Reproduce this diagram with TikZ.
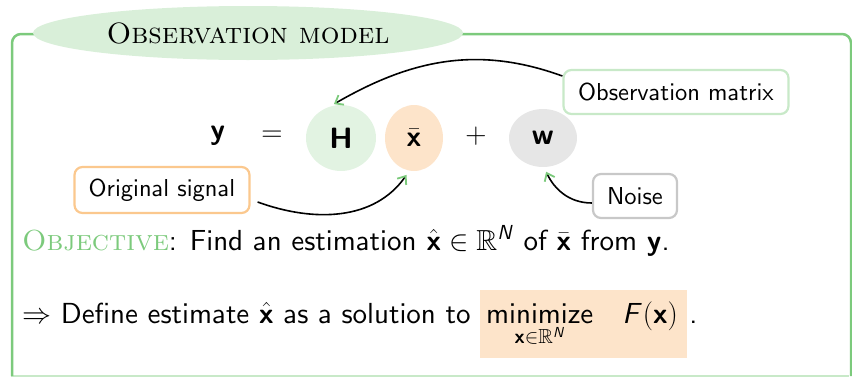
\RequirePackage{fix-cm}
\documentclass[tikz,border=0pt]{standalone}
\usepackage{amsmath}
\usepackage{amssymb}
\usepackage{xcolor}
\usepackage{tikz}
\usetikzlibrary{
	arrows.meta,
	positioning,
	shapes.geometric
}
\definecolor{framegreen}{RGB}{124,202,124}
\definecolor{titlegreen}{RGB}{217,239,217}
\definecolor{hgreen}{RGB}{226,243,226}
\definecolor{xorange}{RGB}{253,228,202}
\definecolor{wgray}{RGB}{230,230,230}
\definecolor{obsborder}{RGB}{200,233,200}
\definecolor{sigborder}{RGB}{251,200,142}
\definecolor{noiseborder}{RGB}{200,200,200}
% sans serif at its 10pt design, scaled up
\DeclareFontFamily{OT1}{slidesf}{}
\DeclareFontShape{OT1}{slidesf}{m}{n}{<-> cmss10}{}
\DeclareFontShape{OT1}{slidesf}{m}{sl}{<-> cmssi10}{}
\DeclareFontShape{OT1}{slidesf}{bx}{n}{<-> cmssbx10}{}
\DeclareFontShape{OT1}{slidesf}{b}{n}{<-> ssub * slidesf/bx/n}{}
\DeclareMathAlphabet{\mathbfsf}{OT1}{slidesf}{bx}{n}
\DeclareMathAlphabet{\mathsfit}{OT1}{slidesf}{m}{sl}
\DeclareMathAlphabet{\mathsfup}{OT1}{slidesf}{m}{n}
\newcommand{\slidesf}{\fontencoding{OT1}\fontfamily{slidesf}\selectfont}
\newcommand{\bodyfont}{\fontsize{29}{34}\selectfont\slidesf}

\begin{document}
\begin{tikzpicture}[x=1pt, y=-1pt,
		every node/.style={font=\bodyfont},
		term/.style={ellipse, inner sep=0pt, font=\fontsize{29.4}{35}\selectfont\slidesf},
		tag/.style={rectangle, rounded corners=8pt, line width=2.2pt, fill=white, inner sep=0pt, minimum height=44pt, font=\fontsize{24.5}{29}\selectfont\slidesf},
		link/.style={line width=1.6pt, -{Straight Barb[length=7pt, width=11pt, line width=1.8pt, color=framegreen]}, shorten >=5pt}]
		\useasboundingbox (0,0) rectangle (852,378);
		% frame of the block
		\draw[line width=1.5pt, obsborder] (12,360) -- (12,376) -- (849,376);
		\draw[line width=2.5pt, framegreen, rounded corners=9pt] (12,376) -- (12,34) -- (851,34) -- (851,376);
		\node[ellipse, fill=titlegreen, minimum width=430pt, minimum height=54pt, font=\fontsize{29.4}{35}\selectfont\rmfamily\scshape] (title) at (248,33) {Observation model};
		% equation
		\node[term] (y) at (218,136) {$\mathbfsf{y}$};
		\node[term] (eq) at (272,136) {$=$};
		\node[term, fill=hgreen, minimum width=70pt, minimum height=66pt] (H) at (341,138) {$\mathbfsf{H}$};
		\node[term, fill=xorange, minimum width=58pt, minimum height=66pt] (xbar) at (414,138) {$\bar{\mathbfsf{x}}$};
		\node[term] (plus) at (476,136) {$+$};
		\node[term, fill=wgray, minimum width=68pt, minimum height=58pt] (w) at (543,138) {$\mathbfsf{w}$};
		% labels
		\node[tag, draw=obsborder, minimum width=225pt] (obsmat) at (676,92) {Observation matrix};
		\node[tag, draw=sigborder, minimum width=175pt, minimum height=46pt] (origsig) at (162,190) {Original signal};
		\node[tag, draw=noiseborder, minimum width=84pt] (noise) at (635,196) {Noise};
		\draw[link] (obsmat.172) to[out=160, in=30] (H.110);
		\draw[link] ([xshift=7pt, yshift=-12pt]origsig.east) to[out=-20, in=235] (xbar.262);
		\draw[link] ([yshift=-7pt]noise.west) to[out=180, in=-65] (w.272);
		% text
		\node[anchor=base west, inner sep=0pt] (objective) at (22,250) {{\fontencoding{TU}\rmfamily\scshape\color{framegreen}Objective}: Find an estimation $\hat{\mathbfsf{x}}\in\mathbb{R}^{\mathsfit{N}}$ of $\bar{\mathbfsf{x}}$ from $\mathbfsf{y}$.};
		\node[anchor=base west, inner sep=0pt] (define) at (22,323) {$\Rightarrow$ Define estimate $\hat{\mathbfsf{x}}$ as a solution to};
		\node[base right=9pt of define, fill=xorange, inner xsep=6pt, inner ysep=11pt] (minbox) {$\underset{\mathbfsf{x}\in\mathbb{R}^{\mathsfit{N}}}{\mathsfup{minimize}}\quad\mathsfit{F}(\mathbfsf{x})$\kern3pt};
		\node[base right=2pt of minbox, inner sep=0pt] (dot) {.};
	\end{tikzpicture}
\end{document}
